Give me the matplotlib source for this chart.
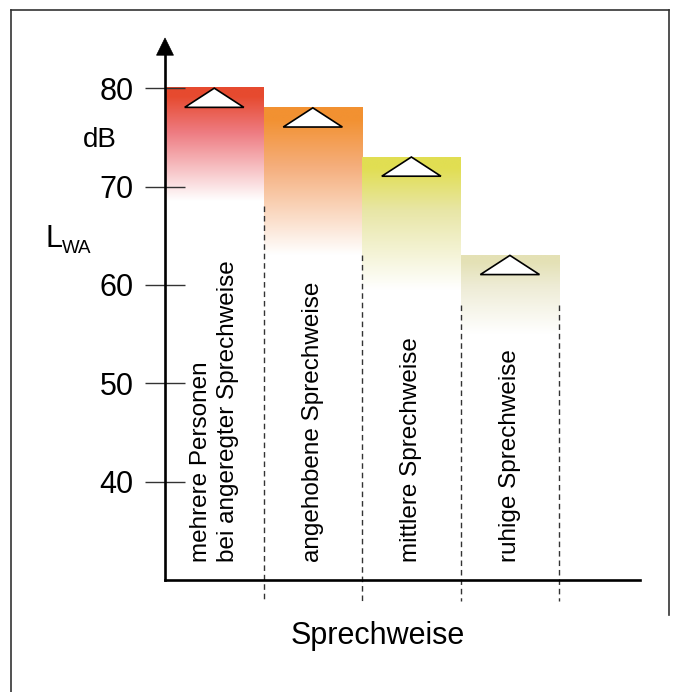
import numpy as np
import matplotlib
matplotlib.use("Agg")
from matplotlib import pyplot as plt
from matplotlib.colors import to_rgb
from matplotlib.patches import Polygon
from matplotlib.lines import Line2D

plt.rcParams['font.family'] = ['Liberation Sans', 'DejaVu Sans']

# data
categories = ["mehrere Personen\nbei angeregter Sprechweise",
              "angehobene Sprechweise",
              "mittlere Sprechweise",
              "ruhige Sprechweise"]
levels = [80, 78, 73, 63]          # L_WA in dB
fade_to = [68.5, 63, 59.5, 55]     # where the colour has faded out
dash_from = [68, 63, 58, 58]       # top of the dashed separators (right edge of each bar)
yticks = [40, 50, 60, 70, 80]

top_colors = ['#E64A2F', '#F29131', '#E1DE52', '#E4E1B5']
mid_colors = ['#EE7C82', '#F5AE7C', '#E8E6A6', '#EEECD6']

fig = plt.figure(figsize=(6.8, 6.92), dpi=100)
W, H = 680, 692


def fx(x):
    return x / W


def fy(y):
    return 1 - y / H


# frame around the figure
frame_kw = dict(color='#333333', lw=1.2, transform=fig.transFigure)
fig.add_artist(Line2D([fx(11), fx(669)], [fy(10), fy(10)], **frame_kw))
fig.add_artist(Line2D([fx(11), fx(11)], [fy(10), fy(692)], **frame_kw))
fig.add_artist(Line2D([fx(669), fx(669)], [fy(10), fy(615)], **frame_kw))

ax = fig.add_axes([fx(165), fy(580), fx(640) - fx(165), fy(38) - fy(580)])
ymin, ymax = 30, 85.1
xmax = 4.82

# gradient bars
for i, (top, bottom) in enumerate(zip(levels, fade_to)):
    t = np.linspace(0, 1, 200)
    c0 = np.array(to_rgb(top_colors[i]))
    c1 = np.array(to_rgb(mid_colors[i]))
    c2 = np.ones(3)
    img = np.zeros((len(t), 1, 3))
    for k in range(3):
        img[:, 0, k] = np.interp(t, [0, 0.08, 0.4, 1.0], [c0[k], c0[k], c1[k], c2[k]])
    ax.imshow(img, extent=(i, i + 1, bottom, top), aspect='auto',
              interpolation='bilinear', origin='upper', zorder=1)

# dashed separators
for i, y0 in enumerate(dash_from):
    ax.plot([i + 1, i + 1], [y0, 27.9], color='#333333', lw=1,
            ls=(0, (4, 2.8)), clip_on=False, zorder=2)

# triangles at bar tops
for i, top in enumerate(levels):
    tri = Polygon([[i + 0.5, top], [i + 0.2, top - 1.95], [i + 0.8, top - 1.95]],
                  closed=True, facecolor='white', edgecolor='black', lw=1.2, zorder=3)
    ax.add_patch(tri)

# rotated category labels
for i, lab in enumerate(categories):
    ax.text(i + 0.5, 31.8, lab, rotation=90, ha='center', va='bottom',
            multialignment='left', fontsize=17.5, linespacing=1.3, zorder=4)

ax.set_xlim(0, xmax)
ax.set_ylim(ymin, ymax)
ax.set_xticks([])
ax.set_yticks(yticks)
ax.tick_params(axis='y', direction='inout', length=29.5, width=1, color='#333333',
               labelsize=22, pad=8)
for s in ['top', 'right']:
    ax.spines[s].set_visible(False)
ax.spines['left'].set_linewidth(1.9)
ax.spines['bottom'].set_linewidth(1.9)
ax.spines['left'].set_bounds(ymin, 83.5)
ax.patch.set_visible(False)

# arrow head on the y axis
arrow = Polygon([[0, ymax], [-0.086, 83.35], [0.086, 83.35]], closed=True,
                facecolor='black', edgecolor='black', lw=0.5, clip_on=False, zorder=5)
ax.add_patch(arrow)

# axis labels
fig.text(fx(100), fy(140), "dB", fontsize=20, ha='center', va='center')
fig.text(fx(45), fy(247), "L", fontsize=22, ha='left', va='baseline')
fig.text(fx(62), fy(253), "WA", fontsize=13.5, ha='left', va='baseline')
fig.text(fx(378), fy(636), "Sprechweise", fontsize=22, ha='center', va='center')

fig.savefig("out.png", dpi=100)
